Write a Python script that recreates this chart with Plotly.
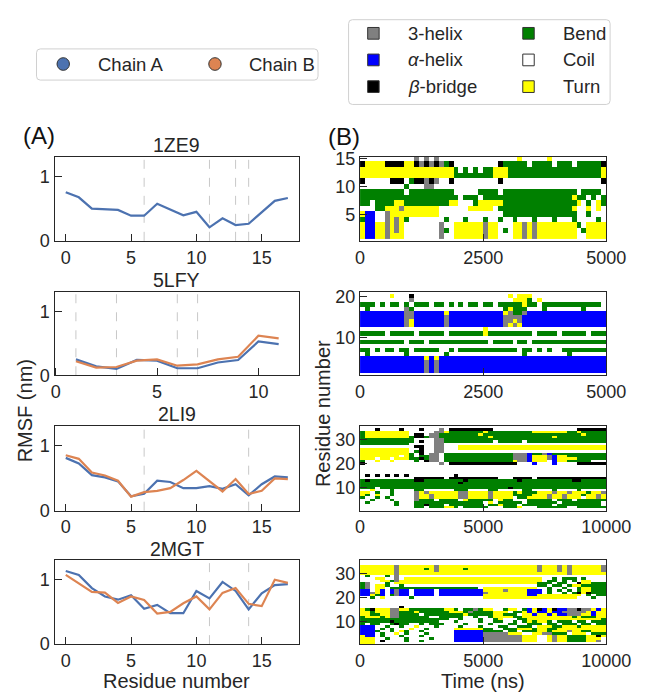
import plotly.graph_objects as go

W, H = 658, 697
FONT = "Liberation Sans, Arial, sans-serif"
TXT = "#262626"

# ---------------- (A) RMSF data ----------------
res_18 = list(range(18))
res_5lfy = list(range(1, 12))

rmsf_1ze9_a = [0.755, 0.675, 0.50, 0.49, 0.48, 0.39, 0.39, 0.575, 0.485, 0.395,
               0.45, 0.21, 0.35, 0.245, 0.265, 0.44, 0.62, 0.665]
rmsf_5lfy_a = [0.25, 0.14, 0.10, 0.24, 0.23, 0.11, 0.11, 0.20, 0.24, 0.53, 0.49]
rmsf_5lfy_b = [0.22, 0.12, 0.13, 0.23, 0.25, 0.15, 0.17, 0.25, 0.29, 0.62, 0.58]
rmsf_2li9_a = [0.81, 0.725, 0.545, 0.51, 0.45, 0.22, 0.26, 0.46, 0.44, 0.345,
               0.345, 0.375, 0.335, 0.405, 0.235, 0.405, 0.525, 0.51]
rmsf_2li9_b = [0.85, 0.795, 0.585, 0.54, 0.46, 0.215, 0.285, 0.305, 0.345, 0.47,
               0.61, 0.455, 0.295, 0.485, 0.255, 0.305, 0.495, 0.485]
rmsf_2mgt_a = [1.135, 1.075, 0.87, 0.74, 0.69, 0.76, 0.55, 0.61, 0.48, 0.48,
               0.825, 0.71, 0.965, 0.825, 0.54, 0.79, 0.915, 0.93]
rmsf_2mgt_b = [1.075, 0.94, 0.81, 0.80, 0.64, 0.74, 0.685, 0.475, 0.50, 0.635,
               0.74, 0.54, 0.795, 0.87, 0.625, 0.59, 1.0, 0.95]

dashed_1ze9 = [6, 11, 13, 14]
dashed_5lfy = [1, 3, 6, 7]
dashed_2li9 = [6, 14]
dashed_2mgt = [11, 14]

pdb_names = ["1ZE9", "5LFY", "2LI9", "2MGT"]

# ---------------- (B) DSSP data (run-length per residue row, top row first) ----------------
ss_codes = ["G", "H", "B", "S", "C", "T"]
ss_labels = ["3-helix", "<i>α</i>-helix", "<i>β</i>-bridge", "Bend", "Coil", "Turn"]
ss_colors = ["#808080", "#0000ff", "#000000", "#008000", "#ffffff", "#ffff00"]

n_bins = 50
sim_time = [5000, 5000, 10000, 10000]

dssp_1ze9 = [
    "C11 G1 C1 G1 C1 G1 C16 T1 C5 T1 C11",
    "B1 T4 B4 T2 B1 G1 B1 G1 B1 G1 S1 B1 C9 B1 S5 C1 S4 C1 S3 C1 S5 B1",
    "T19 S1 C1 S1 C1 S1 C1 S2 T3 S19 T1",
    "T19 S8 T3 S19 T1",
    "B1 C5 B3 C1 S1 B2 G1 B1 G1 C2 B1 C9 B1 C20 B1",
    "C9 S1 C3 G2 C35",
    "S9 C1 S9 C5 S4 C1 S15 C1 S4 C1",
    "S20 C1 S3 C1 S4 S14 T1 S2 C1 S1 C1 S1",
    "S2 C1 S4 T2 S9 T2 C3 S1 T5 S15 T1 C1 S1 C1 T1 S1",
    "C3 S2 T3 G1 T7 C6 T5 C1 S15 T1 C2 T1 C1 T1 C1",
    "T1 H2 C2 G1 T10 C13 S15 C2 S1 C3",
    "S1 H2 C2 G1 T1 G1 T1 S1 C7 S1 C3 S1 C3 S1 C2 S1 C2 S1 C3 S1 C3 S1 C3 S1 C4 S1 C1",
    "T1 H2 T2 G1 T1 G1 T1 C7 G1 C2 T6 G1 T2 C3 T2 G1 T1 G1 T8 S1 C1 T4",
    "T1 H2 T2 G1 T1 G1 T1 C7 G1 S1 C1 T6 G1 T2 C1 S1 C1 T2 G1 T1 G1 T8 C1 S1 T4",
    "T1 H2 T2 G1 T3 C7 G1 C2 T6 G1 T2 C3 T2 G1 T1 G1 T8 C2 T4",
]

dssp_5lfy = [
    "C50",
    "C6 T1 C3 B1 C19 T1 C1 T3 C15",
    "C10 G1 C20 T3 S1 C1 T1 C13",
    "S3 C1 S1 C1 S2 C1 S1 C1 S3 C1 S2 C1 S1 C1 S1 C1 S2 C1 S2 C1 S5 T1 S2 C1 S12 C1",
    "C1 S1 C7 G1 S1 C18 S1 T1 S3 C3 S1 C7 S1 C4",
    "H9 G2 H6 T1 H11 T1 G1 S2 G1 H16",
    "H9 G2 H6 G1 H11 G4 H17",
    "H9 G1 T1 H6 G1 H11 G2 T1 G1 H17",
    "H9 G1 T1 H6 G1 H11 G1 T1 G1 T1 H17",
    "C25 T1 C24",
    "S5 C1 S5 C1 S5 C1 S7 T1 S9 C1 S4 C1 S5 C1 S3",
    "C50",
    "S9 C1 S3 C1 S12 C1 S4 C1 S2 C1 S15",
    "C50",
    "S2 C1 S1 C1 S2 C1 S2 C1 S5 C2 S1 C1 S12 C1 S2 C1 S1 C1 S1 C2 S9",
    "C1 S1 C7 S1 C7 S1 C15 S1 C8 S1 C7",
    "H13 T1 H1 T1 H34",
    "H13 G1 H1 G1 H34",
    "H13 G1 H1 G1 H34",
    "H13 G1 H1 G1 H34",
    "C50",
]

dssp_2li9 = [
    "C50",
    "C3 B1 C4 B1 C3 B1 C3 G1 C1 B9 C17 B6",
    "S1 T9 C5 G2 T1 S7 T1 S9 T7 S2 T1 S5",
    "S1 T9 C1 B2 C1 G2 S8 T1 S20 T1 S4",
    "S1 T9 S1 B2 S1 G2 S10 T1 S12 T1 S10",
    "S11 C4 G2 S33",
    "S11 C1 B1 C2 G2 S10 C1 S5 C1 S16",
    "S10 C5 G2 C33",
    "C11 B2 C2 G2 C3 T30",
    "T10 C2 B1 C2 G2 C3 T30",
    "T10 C1 S1 B1 C2 G2 C33",
    "T10 S1 C1 B1 C1 G2 C1 S14 G3 H1 S2 G1 H1 S11",
    "T8 C1 T1 S1 C1 S2 G2 C1 S14 G3 H1 T3 G1 H1 T2 S8",
    "T3 C1 T2 C1 T3 S2 B1 S1 G2 C1 S14 G3 H1 T3 G1 H1 T4 S6",
    "S1 C2 T1 C2 T1 C4 S1 C1 B1 G2 C1 S14 T1 G2 H1 T3 C1 H1 T2 S5 C3",
    "B1 C15 G1 C1 B14 C3 H1 C3 H1 C4 B6",
    "C50",
    "C50",
    "C50",
    "C50",
    "C1 B1 C1 B1 C1 B1 C1 B1 C1 B1 C9 B1 C30",
    "C11 B6 C1 B10 C3 B4 C1 B14",
    "S1 B1 S9 B2 S8 B1 S10 B1 S10 B2 S5",
    "S20 B1 S29",
    "S50",
    "S3 C1 S26 B1 S19",
    "C2 T1 C3 S1 C4 S2 C6 S3 C4 S2 C5 S2 C4 S1 C4 S1 C5",
    "T2 C1 S1 C2 S1 C4 G1 T1 G1 T6 G2 T4 G1 T4 S1 T1 S3 T3 G1 T2 G1 T3 S1 T2 G1",
    "T1 S1 C1 T1 C2 S1 C4 G1 T2 G1 T5 G2 T4 G1 T4 S4 T3 G1 T2 G1 T3 S1 T2 G1 T1",
    "S1 C2 S1 C1 S1 C5 G1 T2 G1 T5 G2 T4 G1 T4 C1 S2 T4 G1 T2 G1 T3 C1 T2 G1 T1",
    "C2 S1 C3 S1 C4 G1 S3 C1 S4 C1 T1 S5 C1 T1 S2 C3 S5 C1 S3 C1 S6",
    "C1 S1 C5 S1 C3 S14 C1 T1 C1 S5 C1 S6 C1 S8 C1",
    "C7 S1 C3 S2 B1 S3 C1 S7 C1 S2 T1 S3 C1 S6 C1 S9 C1",
    "C11 S2 C1 S3 T2 S1 C1 S5 C3 S3 T1 C3 S6 C2 S6",
    "C50",
]

dssp_2mgt = [
    "C50",
    "C50",
    "T7 G1 T7 G1 T20 G1 T3 G1 T1 G1 T6 G1",
    "T7 G1 T5 S1 T1 G1 T5 S1 T14 G1 T3 G1 T1 G1 T6 G1",
    "T7 G1 T7 G1 T20 G1 T3 G1 T1 G1 T6 G1",
    "T7 G1 T34 G1 T7",
    "C1 S1 C3 S1 C1 G1 C42",
    "C3 T2 C2 G1 C1 T28 C2 S1 C1 S3 C1 S1 C4",
    "C4 T2 S1 G1 T29 C1 S2 C1 S1 C1 S1 C1 T2 C3",
    "S1 G1 C3 S1 C1 T29 S3 C1 S2 C2 B1 T2 S3",
    "S1 G1 C1 T2 S1 C2 S1 C27 S2 C1 S2 C1 S1 T2 S5",
    "S1 G1 C1 T2 C1 S18 C1 T11 C2 S1 C2 S1 C2 S1 T2 S3",
    "H2 C1 T1 H1 C1 H1 G1 H2 C1 H4 C1 H9 T4 G1 T4 H3 C1 S1 C1 S1 C1 S1 C1 S1 T2 S3",
    "H2 G1 T1 H1 C1 H1 G1 H2 C1 H4 C1 H9 G1 T8 H3 C1 S1 C2 S1 C1 S1 B1 T1 B1 S3",
    "H2 T1 S1 H1 C1 S1 G1 H2 C1 H4 C1 H9 T9 H2 T9 C1 S1 C1 S2",
    "C2 S1 C1 T1 C5 S1 C14 T19 C3 S1 C2",
    "C50",
    "C50",
    "C50",
    "C8 B1 C41",
    "T1 S1 B1 T3 G2 T2 S7 T2 S1 C1 S2 G1 S1 T2 C2 S1 T2 C1 S1 H1 T1 B1 H1 T1 B1 H1 H1 G2 B1 G2 T1 H1 T1",
    "T2 S1 T3 G2 S3 T1 S6 T3 S1 G1 S4 T3 C1 S2 T1 H1 T1 H2 T1 H1 H1 G5 T1 H1 T2",
    "T2 S2 T2 G2 S4 C1 S8 T1 S5 T2 S3 C1 T2 H1 T2 H1 T1 H1 H1 G3 T2 H1 T2",
    "S1 T3 S1 T1 G2 S6 C2 S5 C2 S1 C2 S1 T4 S2 T10 S1 T1 S3 T2",
    "S18 C2 S1 C3 S1 C2 S1 T1 C3 S2 T15 S1",
    "S6 B1 S9 C3 S1 C4 S1 C2 S2 C2 S1 C1 S1 T1 S1 T2 S1 C1 S3 C1 S2 C1 S3",
    "S1 C1 S2 C2 S1 B1 S2 C2 S1 C1 S3 C4 S1 C4 S1 C3 S2 C2 S3 C1 S2 C1 S3 C1 S2 C1 S2",
    "H3 C2 S1 C2 S1 C2 T1 C3 S1 C4 S1 C3 S1 C3 S2 C2 S3 C1 T3 S2 T3 S1 T5",
    "H3 C1 S1 C1 S1 C3 T1 C2 S1 C5 T6 S2 C2 S1 S2 T3 S1 T2 S2 T10",
    "H3 S1 C2 S1 C1 T1 S1 C2 S1 C6 H6 S4 C1 S2 C1 S3 T2 S1 T3 G1 T2 S2 T3",
    "H3 C1 S1 C2 T1 C1 S1 C3 S1 C5 H6 G5 T3 C2 T2 G2 S3 C1 T3 C1 S3",
    "T1 H2 C1 S1 C3 S1 C3 S1 C6 H6 G8 T3 C2 T1 G1 T2 S4 T2 B1 T1",
    "T3 C2 S1 C3 S1 C4 S1 C4 H6 G8 T3 C2 T1 G1 T2 S4 T3 C1",
    "T3 C1 B1 C4 S1 C2 S1 C2 C4 H6 G8 T3 C2 T1 G1 T2 S4 T2 G1 C1",
    "T3 C47",
]

dssp_all = [dssp_1ze9, dssp_5lfy, dssp_2li9, dssp_2mgt]


def decode(rle, n=n_bins):
    out = []
    for tok in rle.split():
        out += [ss_codes.index(tok[0])] * int(tok[1:])
    if len(out) < n:
        out += [out[-1]] * (n - len(out))
    return out[:n]


# ---------------- layout geometry (pixels) ----------------
def px(p):
    return p / W


def py(p):
    return 1 - p / H


def sfx(ax):
    return "" if ax == 1 else str(ax)


left_x = (52, 308)
right_x = (372, 630)
rows_px = [(153, 239), (292, 377), (429, 516), (567, 653)]

fig = go.Figure()

C_A = "#4C72B0"
C_B = "#DD8452"

series = [
    (res_18, rmsf_1ze9_a, None, dashed_1ze9),
    (res_5lfy, rmsf_5lfy_a, rmsf_5lfy_b, dashed_5lfy),
    (res_18, rmsf_2li9_a, rmsf_2li9_b, dashed_2li9),
    (res_18, rmsf_2mgt_a, rmsf_2mgt_b, dashed_2mgt),
]

shapes = []
annotations = []

for i, (xs, ya, yb, dl) in enumerate(series):
    s = sfx(i + 1)
    for d in dl:
        shapes.append(dict(type="line", xref=f"x{s}", yref=f"y{s} domain",
                           x0=d, x1=d, y0=0, y1=1, layer="below",
                           line=dict(color="#c8c8c8", width=1, dash="dash")))
    fig.add_trace(go.Scatter(x=xs, y=ya, mode="lines", line=dict(color=C_A, width=2.2),
                             xaxis=f"x{s}", yaxis=f"y{s}", showlegend=False, hoverinfo="skip"))
    if yb is not None:
        fig.add_trace(go.Scatter(x=xs, y=yb, mode="lines", line=dict(color=C_B, width=2.2),
                                 xaxis=f"x{s}", yaxis=f"y{s}", showlegend=False, hoverinfo="skip"))

colorscale = []
for k, c in enumerate(ss_colors):
    colorscale.append([k / 6, c])
    colorscale.append([(k + 1) / 6, c])

for i, rows in enumerate(dssp_all):
    s = sfx(i + 5)
    nres = len(rows)
    z = [decode(r) for r in reversed(rows)]
    dt = sim_time[i] / n_bins
    times = [(j + 0.5) * dt for j in range(n_bins)]
    resid = list(range(1, nres + 1))
    fig.add_trace(go.Heatmap(z=z, x=times, y=resid, colorscale=colorscale, zmin=-0.5, zmax=5.5,
                             showscale=False, hoverinfo="skip", xaxis=f"x{s}", yaxis=f"y{s}"))

axis_common = dict(showline=True, linecolor=TXT, linewidth=1.3, mirror=True, ticks="inside",
                   ticklen=7, tickwidth=1.3, tickcolor=TXT, showgrid=False, zeroline=False,
                   tickformat="d",
                   tickfont=dict(size=18, color=TXT, family=FONT))

layout_axes = {}
left_xranges = [[-0.85, 17.85], [-0.05, 12.0], [-0.85, 17.85], [-0.85, 17.85]]
right_yranges = [[0.2, 15.3], [0.9, 20.9], [0.5, 35.5], [0.5, 35.5]]
right_yticks = [[5, 10, 15], [10, 20], [10, 20, 30], [10, 20, 30]]
right_xticks = [[0, 2500, 5000], [0, 2500, 5000], [0, 5000, 10000], [0, 5000, 10000]]

for i in range(4):
    top, bot = rows_px[i]
    ax = i + 1
    s = sfx(ax)
    layout_axes[f"xaxis{ax}"] = dict(axis_common, domain=[px(left_x[0]), px(left_x[1])],
                                     anchor=f"y{s}", range=left_xranges[i],
                                     tickvals=[0, 5, 10, 15])
    layout_axes[f"yaxis{ax}"] = dict(axis_common, domain=[py(bot), py(top)], anchor=f"x{s}",
                                     range=[0, 1.3], tickvals=[0, 1])
    ax = i + 5
    s = sfx(ax)
    layout_axes[f"xaxis{ax}"] = dict(axis_common, domain=[px(right_x[0]), px(right_x[1])],
                                     anchor=f"y{s}", range=[0, sim_time[i]],
                                     tickvals=right_xticks[i])
    layout_axes[f"yaxis{ax}"] = dict(axis_common, domain=[py(bot), py(top)], anchor=f"x{s}",
                                     range=right_yranges[i], tickvals=right_yticks[i])

# titles
title_y = [141, 279, 417, 555]
for name, ty in zip(pdb_names, title_y):
    annotations.append(dict(text=name, x=px(180), y=py(ty), xref="paper", yref="paper",
                            showarrow=False, xanchor="center", yanchor="middle",
                            font=dict(size=19.5, color=TXT, family=FONT)))

# panel letters
annotations.append(dict(text="(A)", x=px(35.5), y=py(131), xref="paper", yref="paper",
                        showarrow=False, xanchor="center", yanchor="middle",
                        font=dict(size=24, color="#111111", family=FONT)))
annotations.append(dict(text="(B)", x=px(355.5), y=py(132), xref="paper", yref="paper",
                        showarrow=False, xanchor="center", yanchor="middle",
                        font=dict(size=24, color="#111111", family=FONT)))

# axis titles
axis_titles = [
    dict(text="RMSF (nm)", x=px(21), y=py(414), textangle=-90),
    dict(text="Residue number", x=px(333), y=py(416), textangle=-90),
    dict(text="Residue number", x=px(180), y=py(690.5)),
    dict(text="Time (ns)", x=px(501), y=py(690.5)),
]
for a in axis_titles:
    a.update(xref="paper", yref="paper", showarrow=False, xanchor="center", yanchor="middle",
             font=dict(size=20, color=TXT, family=FONT))
annotations += axis_titles


def rounded_box(x0, y0, x1, y1, r=4):
    X0, X1 = px(x0), px(x1)
    YT, YB = py(y0), py(y1)
    rx, ry = r / W, r / H
    path = (f"M {X0+rx},{YT} L {X1-rx},{YT} Q {X1},{YT} {X1},{YT-ry} "
            f"L {X1},{YB+ry} Q {X1},{YB} {X1-rx},{YB} L {X0+rx},{YB} "
            f"Q {X0},{YB} {X0},{YB+ry} L {X0},{YT-ry} Q {X0},{YT} {X0+rx},{YT} Z")
    return dict(type="path", path=path, xref="paper", yref="paper",
                line=dict(color="#d0d0d0", width=1), fillcolor="white", layer="above")


# legend for chains
shapes.append(rounded_box(33, 42, 328, 74))
chain_leg = [("Chain A", C_A, 61, 95), ("Chain B", C_B, 220, 254)]
for label, col, cx, tx in chain_leg:
    r = 6.5
    shapes.append(dict(type="circle", xref="paper", yref="paper",
                       x0=px(cx - r), x1=px(cx + r), y0=py(57.5 + r), y1=py(57.5 - r),
                       fillcolor=col, line=dict(color="#333333", width=1), layer="above"))
    annotations.append(dict(text=label, x=px(tx), y=py(57.5), xref="paper", yref="paper",
                            showarrow=False, xanchor="left", yanchor="middle",
                            font=dict(size=18.5, color=TXT, family=FONT)))

# legend for secondary structure
shapes.append(rounded_box(360, 12, 634, 99))
leg_rows_y = [26, 53.3, 80.7]
leg_cols = [(386, 420), (548.5, 583)]
for k, (lab, col) in enumerate(zip(ss_labels, ss_colors)):
    c = k // 3
    rr = k % 3
    sx, tx = leg_cols[c]
    sy = leg_rows_y[rr]
    hs = 6
    shapes.append(dict(type="rect", xref="paper", yref="paper",
                       x0=px(sx - hs), x1=px(sx + hs), y0=py(sy + hs), y1=py(sy - hs),
                       fillcolor=col, line=dict(color="#333333", width=1), layer="above"))
    annotations.append(dict(text=lab, x=px(tx), y=py(sy), xref="paper", yref="paper",
                            showarrow=False, xanchor="left", yanchor="middle",
                            font=dict(size=18.5, color=TXT, family=FONT)))

fig.update_layout(width=W, height=H, margin=dict(l=0, r=0, t=0, b=0),
                  paper_bgcolor="white", plot_bgcolor="white", showlegend=False,
                  font=dict(family=FONT, color=TXT), shapes=shapes, annotations=annotations,
                  **layout_axes)

fig.write_html("out.html")
